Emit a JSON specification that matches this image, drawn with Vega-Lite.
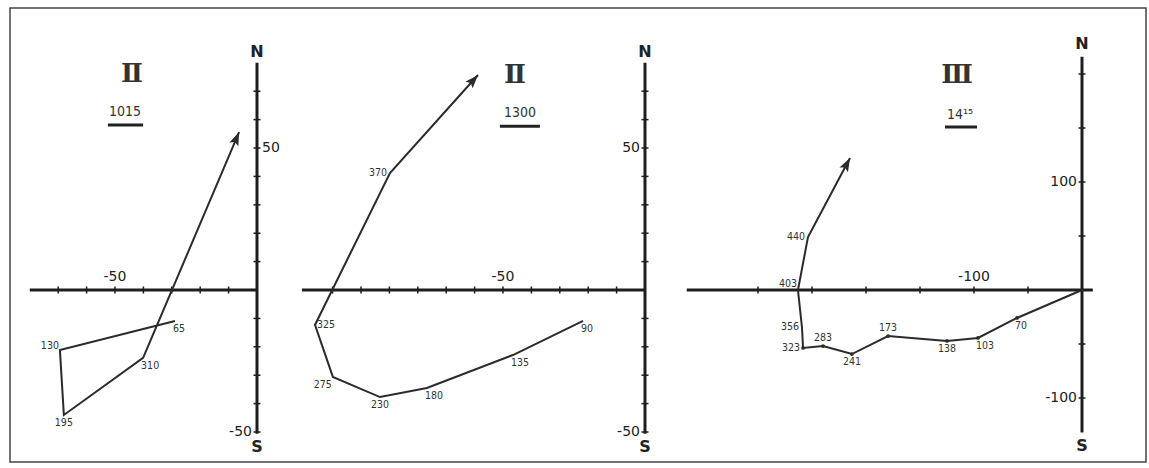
{
  "$schema": "https://vega.github.io/schema/vega-lite/v6.json",
  "width": 1149,
  "height": 468,
  "autosize": {"type": "fit", "contains": "padding"},
  "padding": {"left": 10, "top": 8, "right": 3, "bottom": 6},
  "background": "white",
  "config": {"view": {"stroke": "#444", "strokeWidth": 1.5}, "font": "DejaVu Sans"},
  "datasets": {
    "p1": [
      {"i": 1, "x": -28.9, "y": -10.9, "lab": "65", "pos": "br"},
      {"i": 2, "x": -69.4, "y": -21.1, "lab": "130", "pos": "la"},
      {"i": 3, "x": -68.0, "y": -44.0, "lab": "195", "pos": "b"},
      {"i": 4, "x": -40.1, "y": -23.9, "lab": "310", "pos": "br"},
      {"i": 5, "x": -6.3, "y": 55.6, "end": "arrow"}
    ],
    "p2": [
      {"i": 1, "x": -21.8, "y": -10.9, "lab": "90", "pos": "br"},
      {"i": 2, "x": -46.5, "y": -22.9, "lab": "135", "pos": "br"},
      {"i": 3, "x": -76.8, "y": -34.5, "lab": "180", "pos": "br"},
      {"i": 4, "x": -93.3, "y": -37.7, "lab": "230", "pos": "b"},
      {"i": 5, "x": -109.9, "y": -30.6, "lab": "275", "pos": "lb"},
      {"i": 6, "x": -116.2, "y": -12.3, "lab": "325", "pos": "r"},
      {"i": 7, "x": -89.8, "y": 41.2, "lab": "370", "pos": "l"},
      {"i": 8, "x": -58.8, "y": 75.7, "end": "arrow"}
    ],
    "p3": [
      {"i": 0, "x": 0, "y": 0, "dot": "y"},
      {"i": 1, "x": -60.2, "y": -25.9, "lab": "70", "pos": "br", "dot": "y"},
      {"i": 2, "x": -96.3, "y": -44.4, "lab": "103", "pos": "br", "dot": "y"},
      {"i": 3, "x": -125, "y": -47.2, "lab": "138", "pos": "b", "dot": "y"},
      {"i": 4, "x": -179.6, "y": -42.6, "lab": "173", "pos": "a", "dot": "y"},
      {"i": 5, "x": -213, "y": -59.3, "lab": "241", "pos": "b", "dot": "y"},
      {"i": 6, "x": -239.8, "y": -51.9, "lab": "283", "pos": "a", "dot": "y"},
      {"i": 7, "x": -258.3, "y": -53.7, "lab": "323", "pos": "l", "dot": "y"},
      {"i": 8, "x": -259.3, "y": -34.3, "lab": "356", "pos": "l"},
      {"i": 9, "x": -263, "y": 0, "lab": "403", "pos": "la"},
      {"i": 10, "x": -253.7, "y": 49.1, "lab": "440", "pos": "l"},
      {"i": 11, "x": -214.8, "y": 122.2, "end": "arrow"}
    ],
    "r1": [
      {"x": -80, "y": 0, "x2": 0, "y2": 0},
      {"x": 0, "y": -50.6, "x2": 0, "y2": 80}
    ],
    "r2": [
      {"x": -120.8, "y": 0, "x2": 0, "y2": 0},
      {"x": 0, "y": -50.6, "x2": 0, "y2": 80}
    ],
    "r3": [
      {"x": -366, "y": 0, "x2": 10, "y2": 0},
      {"x": 0, "y": -132, "x2": 0, "y2": 216}
    ],
    "k1": [
      {"x": -70, "y": 0, "d": "h"}, {"x": -60, "y": 0, "d": "h"}, {"x": -50, "y": 0, "d": "h"},
      {"x": -40, "y": 0, "d": "h"}, {"x": -30, "y": 0, "d": "h"}, {"x": -20, "y": 0, "d": "h"},
      {"x": -10, "y": 0, "d": "h"},
      {"x": 0, "y": 70, "d": "v"}, {"x": 0, "y": 60, "d": "v"}, {"x": 0, "y": 50, "d": "v"},
      {"x": 0, "y": 40, "d": "v"}, {"x": 0, "y": 30, "d": "v"}, {"x": 0, "y": 20, "d": "v"},
      {"x": 0, "y": 10, "d": "v"}, {"x": 0, "y": -10, "d": "v"}, {"x": 0, "y": -20, "d": "v"},
      {"x": 0, "y": -30, "d": "v"}, {"x": 0, "y": -40, "d": "v"}, {"x": 0, "y": -50, "d": "v"}
    ],
    "k2": [
      {"x": -110, "y": 0, "d": "h"}, {"x": -100, "y": 0, "d": "h"}, {"x": -90, "y": 0, "d": "h"},
      {"x": -80, "y": 0, "d": "h"}, {"x": -70, "y": 0, "d": "h"}, {"x": -60, "y": 0, "d": "h"},
      {"x": -50, "y": 0, "d": "h"}, {"x": -40, "y": 0, "d": "h"}, {"x": -30, "y": 0, "d": "h"},
      {"x": -20, "y": 0, "d": "h"}, {"x": -10, "y": 0, "d": "h"},
      {"x": 0, "y": 70, "d": "v"}, {"x": 0, "y": 60, "d": "v"}, {"x": 0, "y": 50, "d": "v"},
      {"x": 0, "y": 40, "d": "v"}, {"x": 0, "y": 30, "d": "v"}, {"x": 0, "y": 20, "d": "v"},
      {"x": 0, "y": 10, "d": "v"}, {"x": 0, "y": -10, "d": "v"}, {"x": 0, "y": -20, "d": "v"},
      {"x": 0, "y": -30, "d": "v"}, {"x": 0, "y": -40, "d": "v"}, {"x": 0, "y": -50, "d": "v"}
    ],
    "k3": [
      {"x": -300, "y": 0, "d": "h"}, {"x": -250, "y": 0, "d": "h"}, {"x": -200, "y": 0, "d": "h"},
      {"x": -150, "y": 0, "d": "h"}, {"x": -100, "y": 0, "d": "h"}, {"x": -50, "y": 0, "d": "h"},
      {"x": 0, "y": 200, "d": "v"}, {"x": 0, "y": 150, "d": "v"}, {"x": 0, "y": 100, "d": "v"},
      {"x": 0, "y": 50, "d": "v"}, {"x": 0, "y": -50, "d": "v"}, {"x": 0, "y": -100, "d": "v"}
    ],
    "t1": [
      {"x": 0, "y": 50, "t": "50", "pos": "r"},
      {"x": 0, "y": -50, "t": "-50", "pos": "l"},
      {"x": -50, "y": 0, "t": "-50", "pos": "a"},
      {"x": 0, "y": 80, "t": "N", "pos": "n"},
      {"x": 0, "y": -50.6, "t": "S", "pos": "s"},
      {"x": -44, "y": 76, "t": "Ⅱ", "pos": "num"},
      {"x": -46.5, "y": 62.7, "t": "1015", "pos": "time"},
      {"x": -52.5, "x2": -40.1, "y": 58.1, "pos": "ul"}
    ],
    "t2": [
      {"x": 0, "y": 50, "t": "50", "pos": "l"},
      {"x": 0, "y": -50, "t": "-50", "pos": "l"},
      {"x": -50, "y": 0, "t": "-50", "pos": "a"},
      {"x": 0, "y": 80, "t": "N", "pos": "n"},
      {"x": 0, "y": -50.6, "t": "S", "pos": "s"},
      {"x": -45.8, "y": 75.7, "t": "Ⅱ", "pos": "num"},
      {"x": -44, "y": 62.3, "t": "1300", "pos": "time"},
      {"x": -51.1, "x2": -37, "y": 57.7, "pos": "ul"}
    ],
    "t3": [
      {"x": 0, "y": 100, "t": "100", "pos": "l"},
      {"x": 0, "y": -100, "t": "-100", "pos": "l"},
      {"x": -100, "y": 0, "t": "-100", "pos": "a"},
      {"x": 0, "y": 216, "t": "N", "pos": "n"},
      {"x": 0, "y": -132, "t": "S", "pos": "s"},
      {"x": -115.7, "y": 199, "t": "Ⅲ", "pos": "num"},
      {"x": -113, "y": 162, "t": "14¹⁵", "pos": "time"},
      {"x": -126.9, "x2": -97.2, "y": 151, "pos": "ul"}
    ]
  },
  "resolve": {"scale": {"x": "independent", "y": "independent"}},
  "layer": [
    {
      "encoding": {
        "x": {"field": "x", "type": "quantitative", "axis": null, "scale": {"domain": [-86.97, 313.03], "nice": false, "zero": false}},
        "y": {"field": "y", "type": "quantitative", "axis": null, "scale": {"domain": [-60.56, 99.30], "nice": false, "zero": false}}
      },
      "layer": [
        {"data": {"name": "r1"}, "mark": {"type": "rule", "stroke": "#1e1e1e", "strokeWidth": 3}, "encoding": {"x2": {"field": "x2"}, "y2": {"field": "y2"}}},
        {"data": {"name": "k1"}, "transform": [{"filter": "datum.d === 'h'"}], "mark": {"type": "tick", "orient": "vertical", "size": 7, "thickness": 1.5, "color": "#1e1e1e", "opacity": 1}},
        {"data": {"name": "k1"}, "transform": [{"filter": "datum.d === 'v'"}], "mark": {"type": "tick", "orient": "horizontal", "size": 7, "thickness": 1.5, "color": "#1e1e1e", "opacity": 1}},
        {"data": {"name": "p1"}, "mark": {"type": "line", "stroke": "#2b2b2b", "strokeWidth": 2}, "encoding": {"order": {"field": "i", "type": "quantitative"}}},
        {"data": {"name": "p1"}, "transform": [{"filter": "datum.end === 'arrow'"}], "mark": {"type": "point", "shape": "M0,0L-0.36,1L0,0.8L0.36,1Z", "size": 720, "filled": true, "color": "#2b2b2b", "opacity": 1, "angle": 23}},
        {"data": {"name": "p1"}, "transform": [{"filter": "datum.pos === 'br'"}], "mark": {"type": "text", "align": "left", "baseline": "top", "dx": -2, "dy": 3, "fontSize": 10.5, "font": "DejaVu Sans Condensed, DejaVu Sans", "fill": "#333"}, "encoding": {"text": {"field": "lab"}}},
        {"data": {"name": "p1"}, "transform": [{"filter": "datum.pos === 'la'"}], "mark": {"type": "text", "align": "right", "baseline": "bottom", "dx": -1, "dy": 1, "fontSize": 10.5, "font": "DejaVu Sans Condensed, DejaVu Sans", "fill": "#333"}, "encoding": {"text": {"field": "lab"}}},
        {"data": {"name": "p1"}, "transform": [{"filter": "datum.pos === 'b'"}], "mark": {"type": "text", "align": "center", "baseline": "top", "dy": 3, "fontSize": 10.5, "font": "DejaVu Sans Condensed, DejaVu Sans", "fill": "#333"}, "encoding": {"text": {"field": "lab"}}},
        {"data": {"name": "t1"}, "transform": [{"filter": "datum.pos === 'r'"}], "mark": {"type": "text", "align": "left", "baseline": "middle", "dx": 5, "fontSize": 14, "fill": "#222"}, "encoding": {"text": {"field": "t"}}},
        {"data": {"name": "t1"}, "transform": [{"filter": "datum.pos === 'l'"}], "mark": {"type": "text", "align": "right", "baseline": "middle", "dx": -5, "fontSize": 14, "fill": "#222"}, "encoding": {"text": {"field": "t"}}},
        {"data": {"name": "t1"}, "transform": [{"filter": "datum.pos === 'a'"}], "mark": {"type": "text", "align": "center", "baseline": "bottom", "dy": -6, "fontSize": 14, "fill": "#222"}, "encoding": {"text": {"field": "t"}}},
        {"data": {"name": "t1"}, "transform": [{"filter": "datum.pos === 'n'"}], "mark": {"type": "text", "align": "center", "baseline": "bottom", "dy": -3, "fontSize": 16, "fontWeight": "bold", "fill": "#222"}, "encoding": {"text": {"field": "t"}}},
        {"data": {"name": "t1"}, "transform": [{"filter": "datum.pos === 's'"}], "mark": {"type": "text", "align": "center", "baseline": "top", "dy": 5, "fontSize": 16, "fontWeight": "bold", "fill": "#222"}, "encoding": {"text": {"field": "t"}}},
        {"data": {"name": "t1"}, "transform": [{"filter": "datum.pos === 'num'"}], "mark": {"type": "text", "align": "center", "baseline": "middle", "fontSize": 26, "font": "DejaVu Serif", "fontWeight": "bold", "fill": "#333"}, "encoding": {"text": {"field": "t"}}},
        {"data": {"name": "t1"}, "transform": [{"filter": "datum.pos === 'time'"}], "mark": {"type": "text", "align": "center", "baseline": "middle", "fontSize": 14, "font": "DejaVu Sans Condensed, DejaVu Sans", "fill": "#333"}, "encoding": {"text": {"field": "t"}}},
        {"data": {"name": "t1"}, "transform": [{"filter": "datum.pos === 'ul'"}], "mark": {"type": "rule", "stroke": "#222", "strokeWidth": 3}, "encoding": {"x2": {"field": "x2"}}}
      ]
    },
    {
      "encoding": {
        "x": {"field": "x", "type": "quantitative", "axis": null, "scale": {"domain": [-223.59, 176.41], "nice": false, "zero": false}},
        "y": {"field": "y", "type": "quantitative", "axis": null, "scale": {"domain": [-60.56, 99.30], "nice": false, "zero": false}}
      },
      "layer": [
        {"data": {"name": "r2"}, "mark": {"type": "rule", "stroke": "#1e1e1e", "strokeWidth": 3}, "encoding": {"x2": {"field": "x2"}, "y2": {"field": "y2"}}},
        {"data": {"name": "k2"}, "transform": [{"filter": "datum.d === 'h'"}], "mark": {"type": "tick", "orient": "vertical", "size": 7, "thickness": 1.5, "color": "#1e1e1e", "opacity": 1}},
        {"data": {"name": "k2"}, "transform": [{"filter": "datum.d === 'v'"}], "mark": {"type": "tick", "orient": "horizontal", "size": 7, "thickness": 1.5, "color": "#1e1e1e", "opacity": 1}},
        {"data": {"name": "p2"}, "mark": {"type": "line", "stroke": "#2b2b2b", "strokeWidth": 2}, "encoding": {"order": {"field": "i", "type": "quantitative"}}},
        {"data": {"name": "p2"}, "transform": [{"filter": "datum.end === 'arrow'"}], "mark": {"type": "point", "shape": "M0,0L-0.36,1L0,0.8L0.36,1Z", "size": 720, "filled": true, "color": "#2b2b2b", "opacity": 1, "angle": 42}},
        {"data": {"name": "p2"}, "transform": [{"filter": "datum.pos === 'br'"}], "mark": {"type": "text", "align": "left", "baseline": "top", "dx": -2, "dy": 3, "fontSize": 10.5, "font": "DejaVu Sans Condensed, DejaVu Sans", "fill": "#333"}, "encoding": {"text": {"field": "lab"}}},
        {"data": {"name": "p2"}, "transform": [{"filter": "datum.pos === 'b'"}], "mark": {"type": "text", "align": "center", "baseline": "top", "dy": 3, "fontSize": 10.5, "font": "DejaVu Sans Condensed, DejaVu Sans", "fill": "#333"}, "encoding": {"text": {"field": "lab"}}},
        {"data": {"name": "p2"}, "transform": [{"filter": "datum.pos === 'lb'"}], "mark": {"type": "text", "align": "right", "baseline": "top", "dx": -1, "dy": 3, "fontSize": 10.5, "font": "DejaVu Sans Condensed, DejaVu Sans", "fill": "#333"}, "encoding": {"text": {"field": "lab"}}},
        {"data": {"name": "p2"}, "transform": [{"filter": "datum.pos === 'r'"}], "mark": {"type": "text", "align": "left", "baseline": "middle", "dx": 2, "fontSize": 10.5, "font": "DejaVu Sans Condensed, DejaVu Sans", "fill": "#333"}, "encoding": {"text": {"field": "lab"}}},
        {"data": {"name": "p2"}, "transform": [{"filter": "datum.pos === 'l'"}], "mark": {"type": "text", "align": "right", "baseline": "middle", "dx": -3, "fontSize": 10.5, "font": "DejaVu Sans Condensed, DejaVu Sans", "fill": "#333"}, "encoding": {"text": {"field": "lab"}}},
        {"data": {"name": "t2"}, "transform": [{"filter": "datum.pos === 'l'"}], "mark": {"type": "text", "align": "right", "baseline": "middle", "dx": -5, "fontSize": 14, "fill": "#222"}, "encoding": {"text": {"field": "t"}}},
        {"data": {"name": "t2"}, "transform": [{"filter": "datum.pos === 'a'"}], "mark": {"type": "text", "align": "center", "baseline": "bottom", "dy": -6, "fontSize": 14, "fill": "#222"}, "encoding": {"text": {"field": "t"}}},
        {"data": {"name": "t2"}, "transform": [{"filter": "datum.pos === 'n'"}], "mark": {"type": "text", "align": "center", "baseline": "bottom", "dy": -3, "fontSize": 16, "fontWeight": "bold", "fill": "#222"}, "encoding": {"text": {"field": "t"}}},
        {"data": {"name": "t2"}, "transform": [{"filter": "datum.pos === 's'"}], "mark": {"type": "text", "align": "center", "baseline": "top", "dy": 5, "fontSize": 16, "fontWeight": "bold", "fill": "#222"}, "encoding": {"text": {"field": "t"}}},
        {"data": {"name": "t2"}, "transform": [{"filter": "datum.pos === 'num'"}], "mark": {"type": "text", "align": "center", "baseline": "middle", "fontSize": 26, "font": "DejaVu Serif", "fontWeight": "bold", "fill": "#333"}, "encoding": {"text": {"field": "t"}}},
        {"data": {"name": "t2"}, "transform": [{"filter": "datum.pos === 'time'"}], "mark": {"type": "text", "align": "center", "baseline": "middle", "fontSize": 14, "font": "DejaVu Sans Condensed, DejaVu Sans", "fill": "#333"}, "encoding": {"text": {"field": "t"}}},
        {"data": {"name": "t2"}, "transform": [{"filter": "datum.pos === 'ul'"}], "mark": {"type": "rule", "stroke": "#222", "strokeWidth": 3}, "encoding": {"x2": {"field": "x2"}}}
      ]
    },
    {
      "encoding": {
        "x": {"field": "x", "type": "quantitative", "axis": null, "scale": {"domain": [-992.59, 59.26], "nice": false, "zero": false}},
        "y": {"field": "y", "type": "quantitative", "axis": null, "scale": {"domain": [-159.26, 261.11], "nice": false, "zero": false}}
      },
      "layer": [
        {"data": {"name": "r3"}, "mark": {"type": "rule", "stroke": "#1e1e1e", "strokeWidth": 3}, "encoding": {"x2": {"field": "x2"}, "y2": {"field": "y2"}}},
        {"data": {"name": "k3"}, "transform": [{"filter": "datum.d === 'h'"}], "mark": {"type": "tick", "orient": "vertical", "size": 7, "thickness": 1.5, "color": "#1e1e1e", "opacity": 1}},
        {"data": {"name": "k3"}, "transform": [{"filter": "datum.d === 'v'"}], "mark": {"type": "tick", "orient": "horizontal", "size": 7, "thickness": 1.5, "color": "#1e1e1e", "opacity": 1}},
        {"data": {"name": "p3"}, "mark": {"type": "line", "stroke": "#2b2b2b", "strokeWidth": 2}, "encoding": {"order": {"field": "i", "type": "quantitative"}}},
        {"data": {"name": "p3"}, "transform": [{"filter": "datum.dot === 'y'"}], "mark": {"type": "point", "shape": "circle", "size": 14, "filled": true, "color": "#2b2b2b", "opacity": 1}},
        {"data": {"name": "p3"}, "transform": [{"filter": "datum.end === 'arrow'"}], "mark": {"type": "point", "shape": "M0,0L-0.36,1L0,0.8L0.36,1Z", "size": 720, "filled": true, "color": "#2b2b2b", "opacity": 1, "angle": 28}},
        {"data": {"name": "p3"}, "transform": [{"filter": "datum.pos === 'br'"}], "mark": {"type": "text", "align": "left", "baseline": "top", "dx": -2, "dy": 3, "fontSize": 10.5, "font": "DejaVu Sans Condensed, DejaVu Sans", "fill": "#333"}, "encoding": {"text": {"field": "lab"}}},
        {"data": {"name": "p3"}, "transform": [{"filter": "datum.pos === 'b'"}], "mark": {"type": "text", "align": "center", "baseline": "top", "dy": 3, "fontSize": 10.5, "font": "DejaVu Sans Condensed, DejaVu Sans", "fill": "#333"}, "encoding": {"text": {"field": "lab"}}},
        {"data": {"name": "p3"}, "transform": [{"filter": "datum.pos === 'a'"}], "mark": {"type": "text", "align": "center", "baseline": "bottom", "dy": -3, "fontSize": 10.5, "font": "DejaVu Sans Condensed, DejaVu Sans", "fill": "#333"}, "encoding": {"text": {"field": "lab"}}},
        {"data": {"name": "p3"}, "transform": [{"filter": "datum.pos === 'l'"}], "mark": {"type": "text", "align": "right", "baseline": "middle", "dx": -3, "fontSize": 10.5, "font": "DejaVu Sans Condensed, DejaVu Sans", "fill": "#333"}, "encoding": {"text": {"field": "lab"}}},
        {"data": {"name": "p3"}, "transform": [{"filter": "datum.pos === 'la'"}], "mark": {"type": "text", "align": "right", "baseline": "bottom", "dx": -1, "dy": -1, "fontSize": 10.5, "font": "DejaVu Sans Condensed, DejaVu Sans", "fill": "#333"}, "encoding": {"text": {"field": "lab"}}},
        {"data": {"name": "t3"}, "transform": [{"filter": "datum.pos === 'l'"}], "mark": {"type": "text", "align": "right", "baseline": "middle", "dx": -5, "fontSize": 14, "fill": "#222"}, "encoding": {"text": {"field": "t"}}},
        {"data": {"name": "t3"}, "transform": [{"filter": "datum.pos === 'a'"}], "mark": {"type": "text", "align": "center", "baseline": "bottom", "dy": -6, "fontSize": 14, "fill": "#222"}, "encoding": {"text": {"field": "t"}}},
        {"data": {"name": "t3"}, "transform": [{"filter": "datum.pos === 'n'"}], "mark": {"type": "text", "align": "center", "baseline": "bottom", "dy": -5, "fontSize": 16, "fontWeight": "bold", "fill": "#222"}, "encoding": {"text": {"field": "t"}}},
        {"data": {"name": "t3"}, "transform": [{"filter": "datum.pos === 's'"}], "mark": {"type": "text", "align": "center", "baseline": "top", "dy": 5, "fontSize": 16, "fontWeight": "bold", "fill": "#222"}, "encoding": {"text": {"field": "t"}}},
        {"data": {"name": "t3"}, "transform": [{"filter": "datum.pos === 'num'"}], "mark": {"type": "text", "align": "center", "baseline": "middle", "fontSize": 26, "font": "DejaVu Serif", "fontWeight": "bold", "fill": "#333"}, "encoding": {"text": {"field": "t"}}},
        {"data": {"name": "t3"}, "transform": [{"filter": "datum.pos === 'time'"}], "mark": {"type": "text", "align": "center", "baseline": "middle", "fontSize": 14, "font": "DejaVu Sans Condensed, DejaVu Sans", "fill": "#333"}, "encoding": {"text": {"field": "t"}}},
        {"data": {"name": "t3"}, "transform": [{"filter": "datum.pos === 'ul'"}], "mark": {"type": "rule", "stroke": "#222", "strokeWidth": 3}, "encoding": {"x2": {"field": "x2"}}}
      ]
    }
  ]
}
